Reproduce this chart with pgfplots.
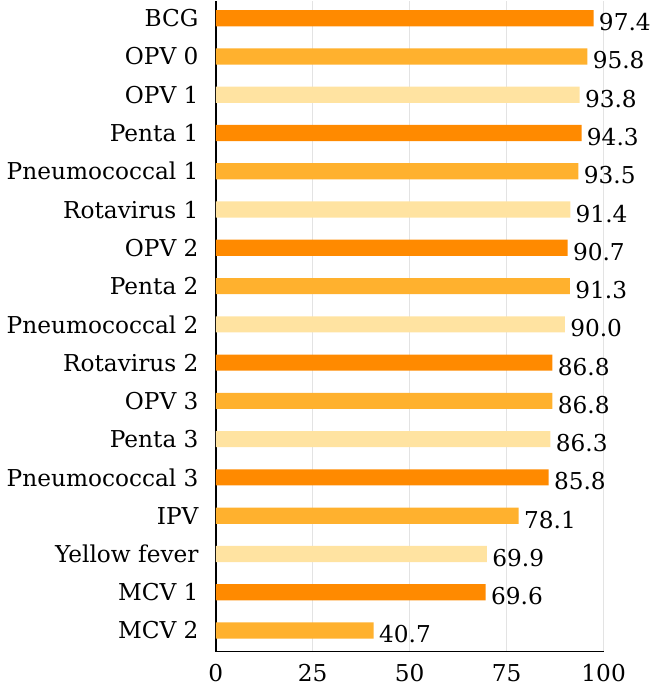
\documentclass[border=0pt]{standalone}
\usepackage{pgfplots}
\pgfplotsset{compat=1.18}
\usepackage{fontspec}
\setmainfont{DejaVu Serif}
\definecolor{c1}{HTML}{FF8A00}
\definecolor{c2}{HTML}{FFB12E}
\definecolor{c3}{HTML}{FFE3A1}
\begin{document}
\begin{tikzpicture}
\begin{axis}[
  scale only axis,
  width=192pt, height=322pt,
  xmin=0, xmax=100,
  ymin=-0.45, ymax=16.55,
  y dir=reverse,
  xbar, bar width=8pt,
  xtick={0,25,50,75,100},
  ytick={0,...,16},
  yticklabels={BCG,OPV 0,OPV 1,Penta 1,Pneumococcal 1,Rotavirus 1,OPV 2,Penta 2,Pneumococcal 2,Rotavirus 2,OPV 3,Penta 3,Pneumococcal 3,IPV,Yellow fever,MCV 1,MCV 2},
  major tick length=0pt,
  xmajorgrids, grid style={gray!22, line width=0.6pt},
  axis x line=none,
  axis y line*=left,
  y axis line style={black, line width=1pt, -},
  hide x axis=false,
  ticklabel style={font=\fontsize{11.5}{13}\selectfont},
  /pgf/number format/assume math mode=true,
  x tick label style={yshift=-3pt},
  y tick label style={xshift=-5pt},
  nodes near coords,
  nodes near coords style={font=\fontsize{11.5}{13}\selectfont, anchor=west, inner xsep=2.5pt, yshift=-2pt},
  point meta=explicit symbolic,
  clip=false,
]
\addplot[fill=c1, draw=none, bar shift=0pt] coordinates {(97.4,0) [97.4] (94.3,3) [94.3] (90.7,6) [90.7] (86.8,9) [86.8] (85.8,12) [85.8] (69.6,15) [69.6]};
\addplot[fill=c2, draw=none, bar shift=0pt] coordinates {(95.8,1) [95.8] (93.5,4) [93.5] (91.3,7) [91.3] (86.8,10) [86.8] (78.1,13) [78.1] (40.7,16) [40.7]};
\addplot[fill=c3, draw=none, bar shift=0pt] coordinates {(93.8,2) [93.8] (91.4,5) [91.4] (90.0,8) [90.0] (86.3,11) [86.3] (69.9,14) [69.9]};
\end{axis}
\end{tikzpicture}
\end{document}
